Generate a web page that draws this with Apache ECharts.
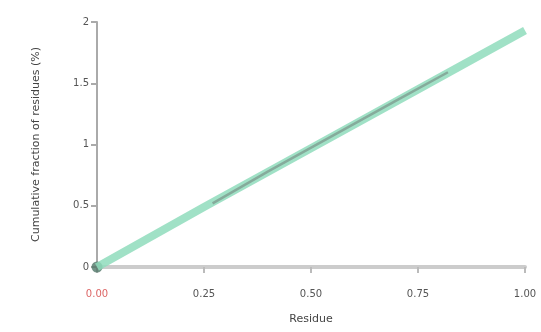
<!DOCTYPE html>
<html>
<head>
<meta charset="utf-8">
<script src="https://cdn.jsdelivr.net/npm/echarts@6/dist/echarts.min.js"></script>
<style>html,body{margin:0;padding:0;background:#fff}#c{width:541px;height:332px}</style>
</head>
<body>
<div id="c"></div>
<script>
var xTicks = [0, 0.25, 0.5, 0.75, 1];
var yTicks = [0, 0.5, 1, 1.5, 2];
var fitX = [0, 0.25, 0.5, 0.75, 1];
var fitY = [0, 0.49, 0.97, 1.45, 1.93];
var obsX = [0.27, 0.4, 0.55, 0.7, 0.82];
var obsY = [0.52, 0.78, 1.07, 1.36, 1.59];

var chart = echarts.init(document.getElementById('c'));
chart.setOption({
  animation: false,
  grid: {left: 97, right: 16, top: 22, bottom: 65},
  xAxis: {
    type: 'value', min: 0, max: 1, interval: 0.25,
    name: 'Residue', nameLocation: 'middle', nameGap: 47,
    nameTextStyle: {color: '#444', fontSize: 11, fontFamily: 'DejaVu Sans'},
    axisLine: {show: true, lineStyle: {color: '#ccc', width: 4}},
    axisTick: {show: true, length: 6, lineStyle: {color: '#bbb', width: 2}},
    splitLine: {show: false},
    axisLabel: {margin: 22, color: '#555', fontSize: 10, fontFamily: 'DejaVu Sans',
      formatter: function (v) { return v === 0 ? '{r|' + v.toFixed(2) + '}' : v.toFixed(2); },
      rich: {r: {color: '#d66', fontSize: 10, fontFamily: 'DejaVu Sans'}}}
  },
  yAxis: {
    type: 'value', min: 0, max: 2, interval: 0.5,
    name: 'Cumulative fraction of residues (%)', nameLocation: 'middle', nameGap: 55,
    nameTextStyle: {color: '#444', fontSize: 11, fontFamily: 'DejaVu Sans'},
    axisLine: {show: true, lineStyle: {color: '#aaa', width: 2}},
    axisTick: {show: true, length: 6, lineStyle: {color: '#aaa', width: 2}},
    splitLine: {show: false},
    axisLabel: {color: '#555', fontSize: 10, fontFamily: 'DejaVu Sans'}
  },
  series: [
    {type: 'line', data: fitX.map(function (x, i) { return [x, fitY[i]]; }),
     symbol: 'none', lineStyle: {color: '#8fdcbc', width: 8, opacity: 0.85}},
    {type: 'line', data: obsX.map(function (x, i) { return [x, obsY[i]]; }),
     symbol: 'none', lineStyle: {color: '#7d9a8e', width: 2.5, opacity: 0.75}},
    {type: 'scatter', data: [[0, 0]], symbolSize: 11, itemStyle: {color: '#4f7566'}}
  ]
});
</script>
</body>
</html>
